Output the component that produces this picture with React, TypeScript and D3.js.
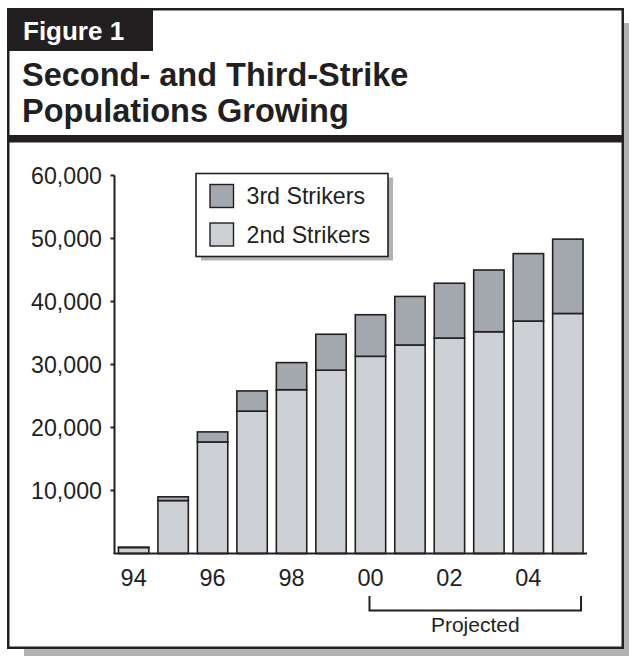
import React from "react";
import * as d3 from "d3";

// Inmate population by fiscal year
const years = ["94", "95", "96", "97", "98", "99", "00", "01", "02", "03", "04", "05"];
const secondStrikers = [950, 8400, 17700, 22600, 26000, 29100, 31300, 33100, 34200, 35200, 36900, 38100];
const thirdStrikers = [50, 600, 1600, 3200, 4300, 5700, 6600, 7700, 8700, 9800, 10700, 11800];
const yTicks = [10000, 20000, 30000, 40000, 50000, 60000];
const xTickLabels = ["94", "96", "98", "00", "02", "04"];
const projectedRange = ["00", "05"];

const seriesKeys = ["second", "third"];
const seriesLabels: Record<string, string> = { third: "3rd Strikers", second: "2nd Strikers" };
const seriesColors: Record<string, string> = { third: "#a3a8ae", second: "#cdd0d4" };

const W = 629;
const H = 656;
const INK = "#231f20";
const FONT = "'Liberation Sans', Arial, Helvetica, sans-serif";

export default function App() {
  const rows = years.map((y, i) => ({ year: y, second: secondStrikers[i], third: thirdStrikers[i] }));
  const stacked = d3.stack<any>().keys(seriesKeys)(rows);

  const x = d3
    .scaleBand<string>()
    .domain(years)
    .range([114.5, 587])
    .paddingInner(0.23)
    .paddingOuter(0.1);
  const y = d3.scaleLinear().domain([0, 60000]).range([553.5, 175.5]);
  const fmt = d3.format(",");

  const axisX = 114.5;
  const bw = x.bandwidth();

  const bracketLeft = (x(projectedRange[0]) ?? 0) + bw / 2 - 1;
  const bracketRight = (x(projectedRange[1]) ?? 0) + bw - 2;

  const legend = { x: 196, y: 173.5, w: 192, h: 83 };
  const legendOrder = ["third", "second"];

  return (
    <div style={{ position: "absolute", left: 0, top: 0 }}>
      <svg width={W} height={H} style={{ display: "block", fontFamily: FONT }}>
        <rect x={0} y={0} width={W} height={H} fill="#ffffff" />
        {/* drop shadow of the figure frame */}
        <rect x={24} y={23} width={616} height={640} fill="#b3b3b3" />
        <rect x={8.25} y={9.25} width={614.5} height={638.5} fill="#ffffff" stroke={INK} strokeWidth={2.5} />

        {/* header */}
        <rect x={8} y={9} width={145} height={42} fill={INK} />
        <text x={23} y={40} fill="#ffffff" fontSize={26} fontWeight="bold">
          Figure 1
        </text>
        <text x={22} y={86} fill={INK} fontSize={32.5} fontWeight="bold">
          Second- and Third-Strike
        </text>
        <text x={22} y={122} fill={INK} fontSize={32.5} fontWeight="bold">
          Populations Growing
        </text>
        <rect x={8} y={135} width={615} height={7.5} fill={INK} />

        {/* y axis */}
        <line x1={axisX} x2={axisX} y1={y(0)} y2={y(60000)} stroke={INK} strokeWidth={2} />
        {yTicks.map((t) => (
          <g key={t}>
            <line x1={axisX - 4} x2={axisX} y1={y(t)} y2={y(t)} stroke={INK} strokeWidth={2} />
            <text x={102} y={y(t)} dy="0.36em" textAnchor="end" fontSize={23.2} fill={INK}>
              {fmt(t)}
            </text>
          </g>
        ))}

        {/* stacked bars */}
        {stacked.map((s) => (
          <g key={s.key} fill={seriesColors[s.key]}>
            {s.map((d, i) => (
              <rect
                key={years[i]}
                x={x(years[i])}
                y={y(d[1])}
                width={bw}
                height={y(d[0]) - y(d[1])}
                stroke={INK}
                strokeWidth={1.6}
              />
            ))}
          </g>
        ))}

        {/* x axis */}
        <line x1={axisX - 1} x2={587} y1={y(0)} y2={y(0)} stroke={INK} strokeWidth={2} />
        {xTickLabels.map((t) => (
          <text key={t} x={(x(t) ?? 0) + bw / 2} y={585.5} textAnchor="middle" fontSize={23.5} fill={INK}>
            {t}
          </text>
        ))}

        {/* projected bracket */}
        <path
          d={`M${bracketLeft},596 V610.5 H${bracketRight} V596`}
          fill="none"
          stroke={INK}
          strokeWidth={2}
        />
        <text x={(bracketLeft + bracketRight) / 2} y={632} textAnchor="middle" fontSize={21} fill={INK}>
          Projected
        </text>

        {/* legend */}
        <rect x={legend.x + 5} y={legend.y + 4} width={legend.w} height={legend.h} fill="#b3b3b3" />
        <rect x={legend.x} y={legend.y} width={legend.w} height={legend.h} fill="#ffffff" stroke={INK} strokeWidth={1.6} />
        {legendOrder.map((k, i) => (
          <g key={k} transform={`translate(${legend.x + 14},${legend.y + 11 + i * 38.5})`}>
            <rect x={0} y={0} width={23.5} height={23} fill={seriesColors[k]} stroke={INK} strokeWidth={1.4} />
            <text x={36.5} y={19.5} fontSize={23.2} fill={INK}>
              {seriesLabels[k]}
            </text>
          </g>
        ))}
      </svg>
    </div>
  );
}
